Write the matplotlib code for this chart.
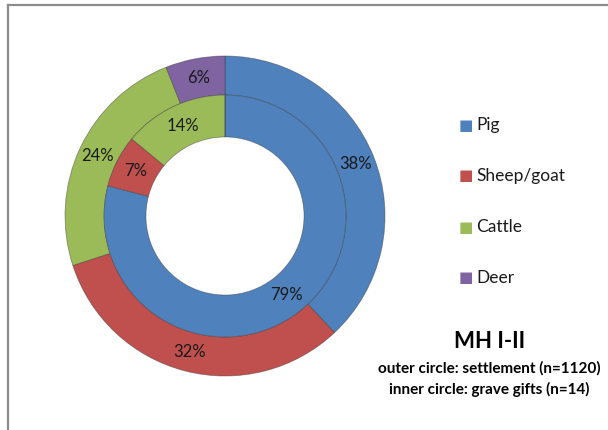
import matplotlib
matplotlib.use("Agg")
import matplotlib.pyplot as plt
from matplotlib.lines import Line2D

plt.rcParams['font.family'] = ['Lato', 'DejaVu Sans']

# data (percent)
categories = ['Pig', 'Sheep/goat', 'Cattle', 'Deer']
settlement = [38, 32, 24, 6]      # outer circle, n=1120
grave_gifts = [79, 7, 14, 0]      # inner circle, n=14
colors = ['#4F81BD', '#C0504D', '#9BBB59', '#8064A2']

W, H = 608, 430
fig = plt.figure(figsize=(W / 100, H / 100), dpi=100)
fig.patch.set_facecolor('white')

# chart border (cut off on right and bottom)
fig.add_artist(Line2D([8 / W, 1.0], [1 - 5 / H, 1 - 5 / H], color='#8c8c8c', lw=1.6))
fig.add_artist(Line2D([8 / W, 8 / W], [0.0, 1 - 5 / H], color='#8c8c8c', lw=1.6))

cx, cy, R = 225, 216, 160
ax = fig.add_axes([(cx - R) / W, (H - cy - R) / H, 2 * R / W, 2 * R / H])

r_out, r_mid, r_in = 1.0, 0.756, 0.494
edge = dict(edgecolor=(0.2, 0.2, 0.2, 0.45), linewidth=0.6)


def fmt(p):
    return '%1.0f%%' % p if p > 0.5 else ''


ax.pie(settlement, radius=r_out, colors=colors, startangle=90, counterclock=False,
       wedgeprops=dict(width=r_out - r_mid, **edge),
       autopct=fmt, pctdistance=(r_out + r_mid) / 2 / r_out,
       textprops=dict(fontsize=12, color='#1a1a1a'))
ax.pie(grave_gifts, radius=r_mid, colors=colors, startangle=90, counterclock=False,
       wedgeprops=dict(width=r_mid - r_in, **edge),
       autopct=fmt, pctdistance=(r_mid + r_in) / 2 / r_mid,
       textprops=dict(fontsize=12, color='#1a1a1a'))
ax.set_xlim(-1, 1)
ax.set_ylim(-1, 1)
ax.set_aspect('equal')
ax.axis('off')

# legend
for i, (name, c) in enumerate(zip(categories, colors)):
    y = 1 - (125 + 51 * i) / H
    fig.text(466 / W, y, u'\u25A0', color=c, fontsize=11, ha='center', va='center',
             family=['DejaVu Sans'])
    fig.text(476 / W, y, name, fontsize=12.5, ha='left', va='center', color='#1a1a1a')

# title block
fig.text(490 / W, 1 - 342 / H, 'MH I-II', fontsize=16, fontweight='bold', ha='center', va='center')
fig.text(489 / W, 1 - 368 / H, 'outer circle: settlement (n=1120)', fontsize=11,
         fontweight='bold', ha='center', va='center')
fig.text(489 / W, 1 - 389 / H, 'inner circle: grave gifts (n=14)', fontsize=11,
         fontweight='bold', ha='center', va='center')

fig.savefig('out.png', dpi=100)
